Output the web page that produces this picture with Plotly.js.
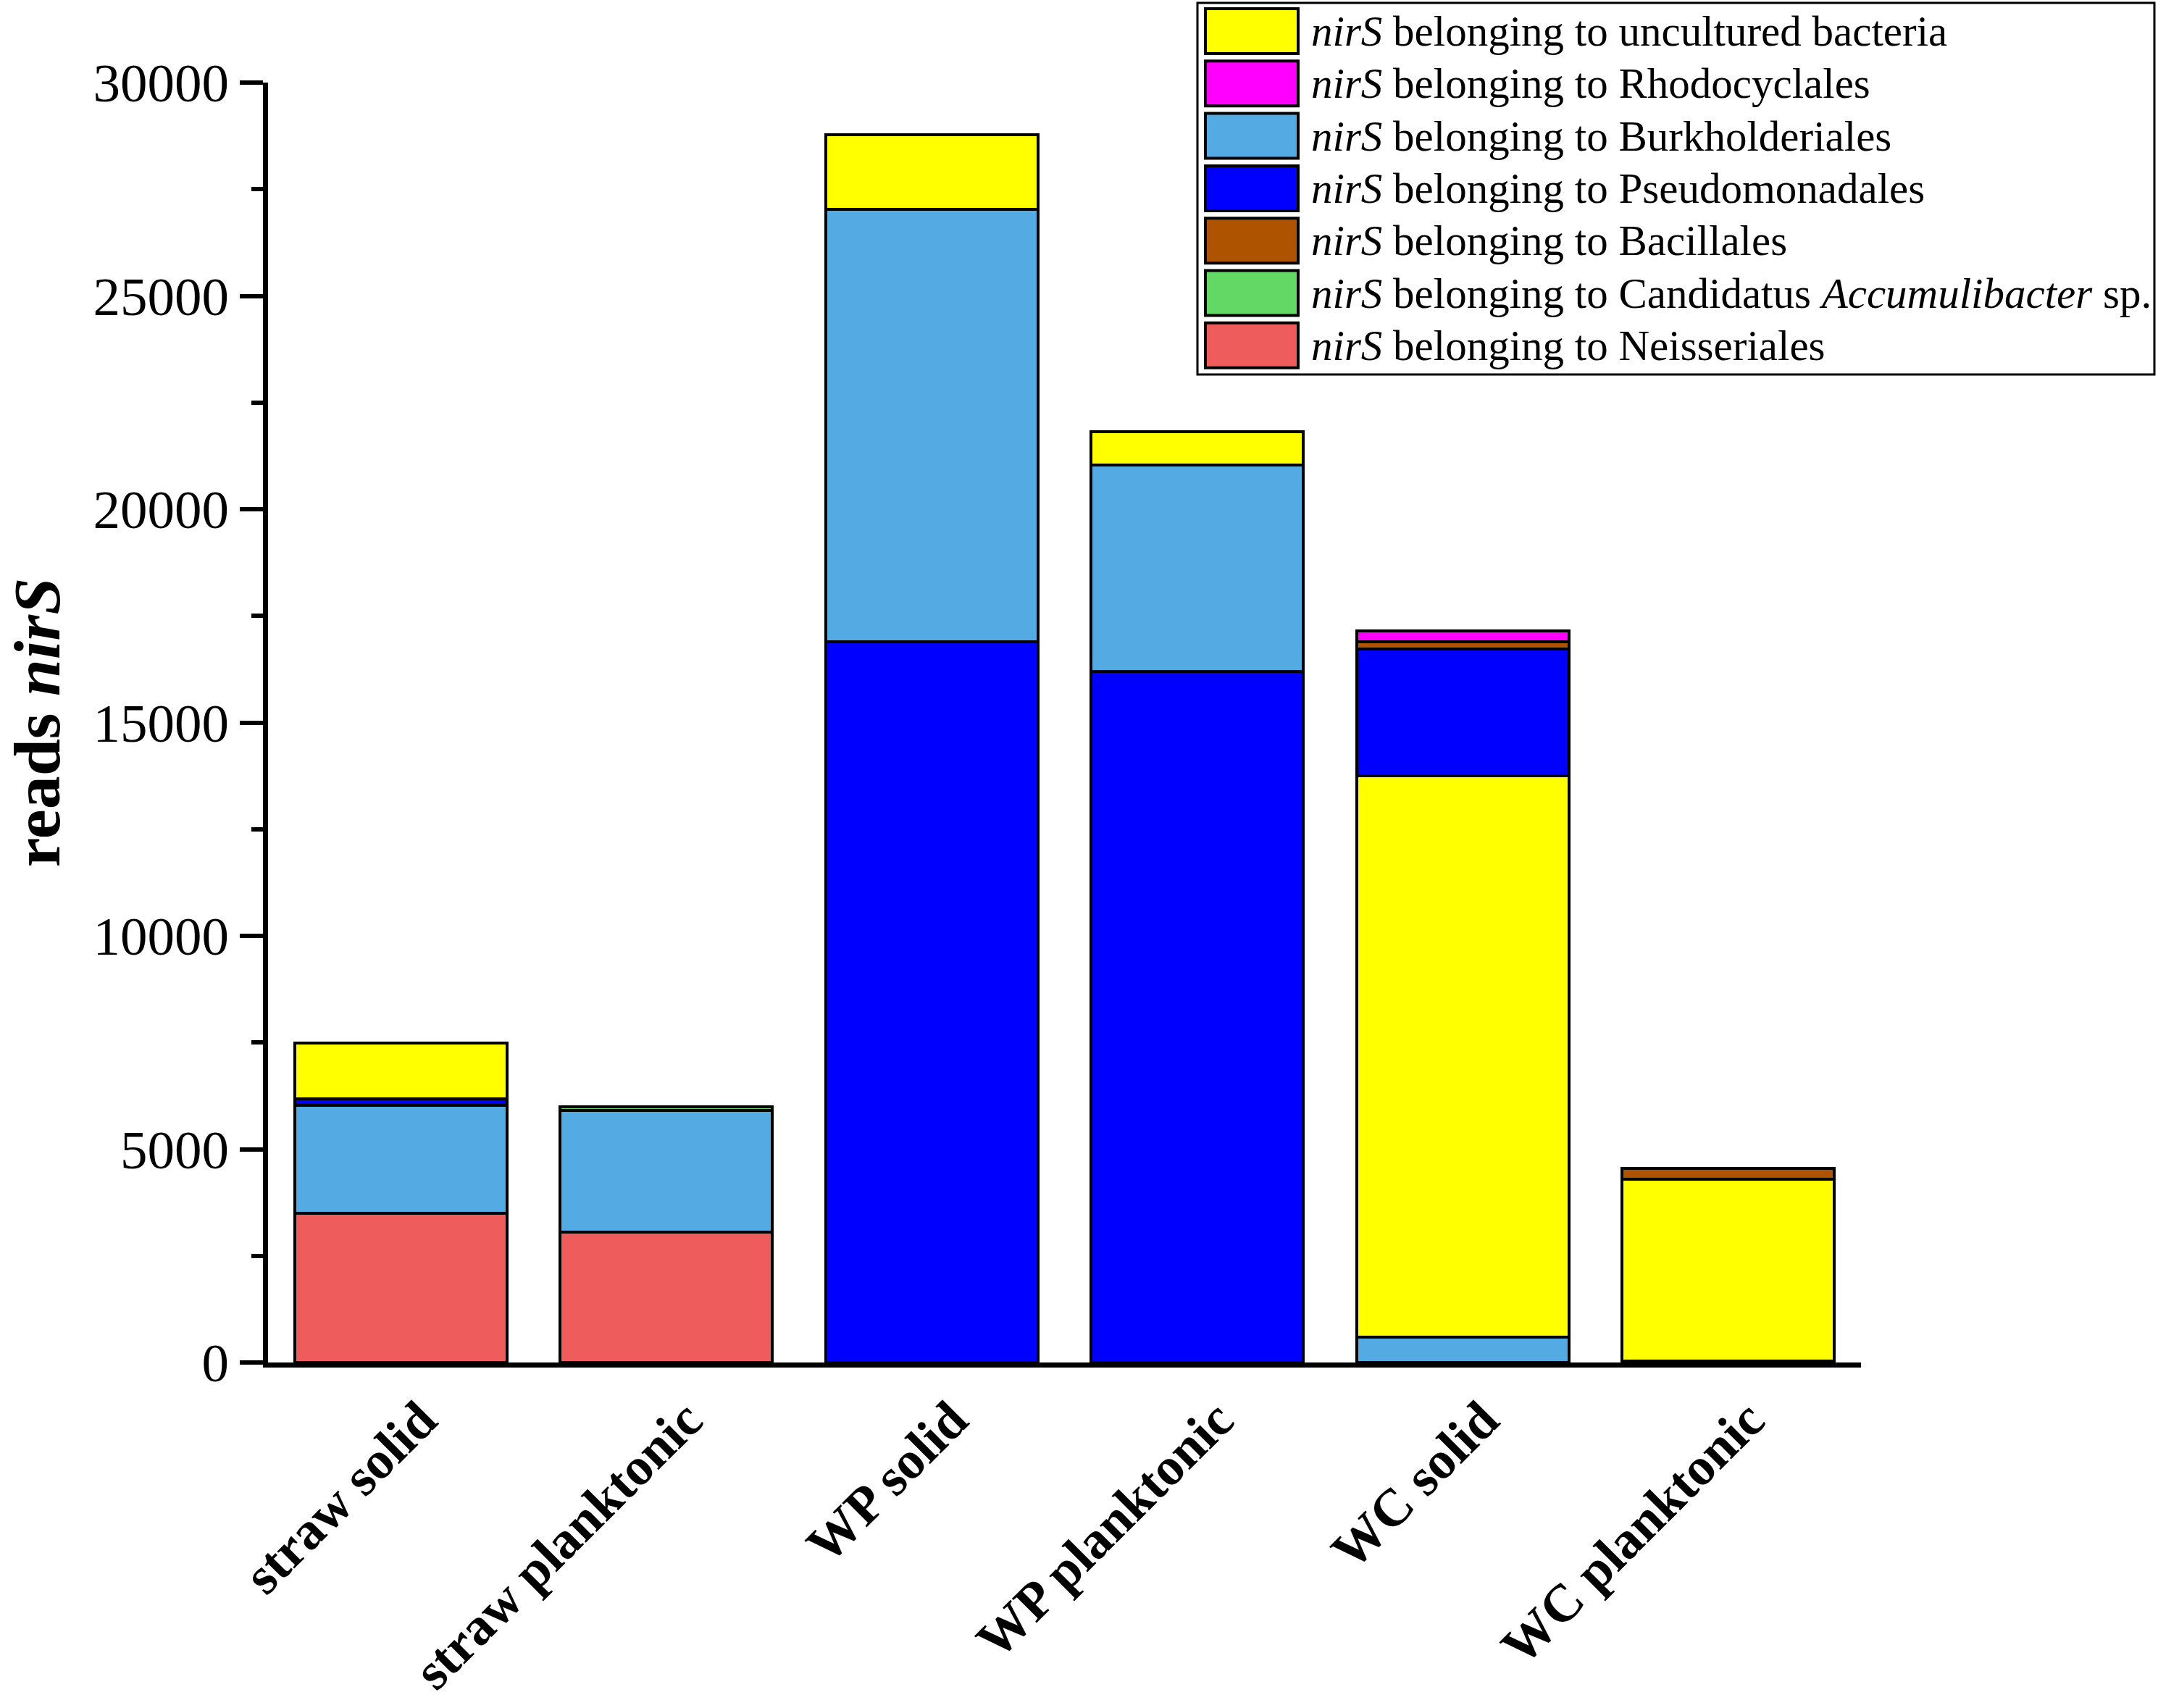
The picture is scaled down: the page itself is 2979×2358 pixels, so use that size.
<!DOCTYPE html>
<html>
<head>
<meta charset="utf-8">
<script src="https://cdn.plot.ly/plotly-3.0.1.min.js"></script>
<style>
  html, body { margin: 0; padding: 0; background: #fff; }
  #chart { width: 2979px; height: 2358px; }
</style>
</head>
<body>
<div id="chart"></div>
<script>
// ── data ──────────────────────────────────────────────────────────
const samples = ['straw solid', 'straw planktonic', 'WP solid', 'WP planktonic', 'WC solid', 'WC planktonic'];

const uncultured      = [1310,    0, 1740,   780, 13160, 4260];
const rhodocyclales   = [   0,    0,    0,     0,   250,    0];
const burkholderiales = [2540, 2850, 10130, 4840,   600,   40];
const pseudomonadales = [ 150,    0, 16900, 16190, 2960,    0];
const bacillales      = [   0,    0,    0,     0,   170,  250];
const accumulibacter  = [   0,   90,    0,     0,     0,    0];
const neisseriales    = [3490, 3060,    0,     0,     0,    0];

// order of the segments in each bar, bottom to top (differs per bar in the figure)
const stackOrder = [
    ['neisseriales', 'burkholderiales', 'pseudomonadales', 'uncultured'],
    ['neisseriales', 'burkholderiales', 'accumulibacter'],
    ['pseudomonadales', 'burkholderiales', 'uncultured'],
    ['pseudomonadales', 'burkholderiales', 'uncultured'],
    ['burkholderiales', 'uncultured', 'pseudomonadales', 'bacillales', 'rhodocyclales'],
    ['burkholderiales', 'uncultured', 'bacillales']
];

// legend entries, top to bottom
const legendKeys = ['uncultured', 'rhodocyclales', 'burkholderiales', 'pseudomonadales',
                    'bacillales', 'accumulibacter', 'neisseriales'];
const legendLabels = [
    '<i>nirS</i> belonging to uncultured bacteria',
    '<i>nirS</i> belonging to Rhodocyclales',
    '<i>nirS</i> belonging to Burkholderiales',
    '<i>nirS</i> belonging to Pseudomonadales',
    '<i>nirS</i> belonging to Bacillales',
    '<i>nirS</i> belonging to Candidatus <i>Accumulibacter</i> sp.',
    '<i>nirS</i> belonging to Neisseriales'
];

const yTickVals = [0, 5000, 10000, 15000, 20000, 25000, 30000];

// ── styles ────────────────────────────────────────────────────────
const COLORS = {
    uncultured:      '#FFFF00',
    rhodocyclales:   '#FF00FF',
    burkholderiales: '#54ABE4',
    pseudomonadales: '#0000FF',
    bacillales:      '#AE5300',
    accumulibacter:  '#64D864',
    neisseriales:    '#EE5C5C'
};
const FONT = 'Liberation Serif, Times New Roman, serif';

const valuesByKey = { uncultured, rhodocyclales, burkholderiales, pseudomonadales,
                      bacillales, accumulibacter, neisseriales };

// page geometry (px) -> paper coordinates for the hand-built legend
const W = 2979, H = 2358;
const M = { l: 370, r: 410, t: 114, b: 477 };
const plotW = W - M.l - M.r, plotH = H - M.t - M.b;
const px2x = px => (px - M.l) / plotW;
const px2y = py => (H - M.b - py) / plotH;

// ── traces: one per stacking level, coloured per bar ──────────────
const nLevels = Math.max(...stackOrder.map(o => o.length));
const data = [];
for (let L = 0; L < nLevels; L++) {
    const y = samples.map((s, i) => {
        const key = stackOrder[i][L];
        return key ? valuesByKey[key][i] : null;
    });
    const colors = samples.map((s, i) => {
        const key = stackOrder[i][L];
        return key ? COLORS[key] : 'rgba(0,0,0,0)';
    });
    const names = samples.map((s, i) => stackOrder[i][L] || '');
    data.push({
        type: 'bar',
        x: samples,
        y: y,
        text: names,
        hovertemplate: '%{x}<br>%{text}: %{y}<extra></extra>',
        textposition: 'none',
        marker: { color: colors, line: { color: '#000', width: 4 } },
        showlegend: false
    });
}

// ── legend drawn as shapes + annotations ──────────────────────────
const shapes = [{
    type: 'rect', xref: 'paper', yref: 'paper',
    x0: px2x(1653), x1: px2x(2974), y0: px2y(517), y1: px2y(4),
    line: { color: '#000', width: 3 }, fillcolor: 'rgba(0,0,0,0)'
}];
const annotations = [];
legendKeys.forEach((key, i) => {
    const cy = 43 + i * 72.3;
    shapes.push({
        type: 'rect', xref: 'paper', yref: 'paper',
        x0: px2x(1664), x1: px2x(1792), y0: px2y(cy + 31), y1: px2y(cy - 31),
        line: { color: '#000', width: 4 }, fillcolor: COLORS[key]
    });
    annotations.push({
        xref: 'paper', yref: 'paper', x: px2x(1808), y: px2y(cy),
        xanchor: 'left', yanchor: 'middle', showarrow: false,
        text: legendLabels[i], font: { family: FONT, size: 59, color: '#000' }
    });
});

const layout = {
    width: W, height: H,
    margin: M,
    paper_bgcolor: '#fff', plot_bgcolor: '#fff',
    barmode: 'stack',
    bargap: 0.2,
    font: { family: FONT, color: '#000' },
    xaxis: {
        type: 'category',
        range: [-0.5, 5.5],
        showline: true, linecolor: '#000', linewidth: 7,
        ticks: '', showgrid: false, zeroline: false,
        tickangle: -45,
        ticklabelshift: 28,
        ticklabelstandoff: 0,
        tickfont: { family: FONT, size: 73, weight: 'bold', color: '#000' }
    },
    yaxis: {
        range: [0, 30000],
        tickvals: yTickVals,
        ticktext: yTickVals.map(String),
        showline: true, linecolor: '#000', linewidth: 7,
        ticks: 'outside', ticklen: 32, tickwidth: 6, tickcolor: '#000',
        minor: { dtick: 2500, ticks: 'outside', ticklen: 16, tickwidth: 6, tickcolor: '#000' },
        showgrid: false, zeroline: false,
        tickfont: { family: FONT, size: 75, color: '#000' },
        title: { text: '<b>reads <i>nirS</i></b>', font: { family: FONT, size: 92, color: '#000' }, standoff: 50 }
    },
    shapes: shapes,
    annotations: annotations
};

Plotly.newPlot('chart', data, layout, { displayModeBar: false, responsive: false });
</script>
</body>
</html>
